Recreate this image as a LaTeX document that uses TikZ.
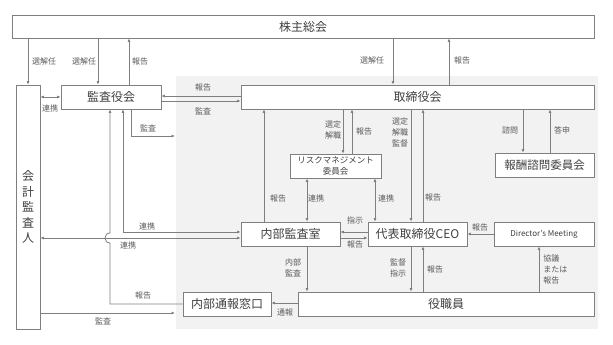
\documentclass[tikz,border=0pt]{standalone}
\usepackage{fontspec}
\setmainfont{Noto Sans CJK JP}
\usetikzlibrary{arrows.meta}
\definecolor{linea}{HTML}{7F7F7F}
\definecolor{testo}{HTML}{404040}
\definecolor{etitesto}{HTML}{5A5A5A}
\definecolor{sfondo}{HTML}{F2F2F2}

\begin{document}
\begin{tikzpicture}[
                x=1pt, y=-1pt,
                line width=0.8pt,
                >={Latex[length=3.5pt,width=3pt]},
                % Stile per i riquadri
                box/.style={
                    draw=linea,
                    fill=white,
                    text=testo,
                    inner sep=0pt,
                    minimum height=24pt,
                    font=\fontsize{12}{14}\selectfont
                },
                % Stile per le frecce
                freccia/.style={draw=linea, ->},
                doppia/.style={draw=linea, <->},
                % Stile per le etichette
                etic/.style={
                    text=etitesto,
                    inner sep=0pt,
                    align=center,
                    font=\fontsize{8}{11}\selectfont
                }
            ]

                \useasboundingbox (0,0) rectangle (613,345);
                % --- Sfondo grigio ---
                \fill[sfondo] (176,76) rectangle (598,329);

                % --- Riquadri ---
                \node[box, minimum width=582pt, minimum height=23pt] (KS) at (303,26.5) {株主総会};
                \node[box, minimum width=24pt, minimum height=244pt, align=center,
                      font=\fontsize{12}{15.5}\selectfont] (KK) at (28,207) {会\\計\\監\\査\\人};
                \node[box, minimum width=100pt] (KY) at (111,97) {監査役会};
                \node[box, minimum width=353pt] (TB) at (417.5,97) {取締役会};
                \node[box, minimum width=91pt, align=center,
                      font=\fontsize{8.5}{11.5}\selectfont] (RM) at (335.5,166) {リスクマネジメント\\委員会};
                \node[box, minimum width=99pt, font=\fontsize{11.5}{14}\selectfont] (HS) at (544.5,165) {報酬諮問委員会};
                \node[box, minimum width=99pt] (NK) at (290.5,234) {内部監査室};
                \node[box, minimum width=99pt] (CEO) at (417.5,234) {代表取締役CEO};
                \node[box, minimum width=100pt, font=\fontsize{8}{10}\selectfont] (DM) at (544,234) {Director’s Meeting};
                \node[box, minimum width=88pt] (NT) at (227,304) {内部通報窓口};
                \node[box, minimum width=296pt] (YS) at (446,304) {役職員};

                % --- Frecce a sinistra ---
                \draw[freccia] (KS.south -| KK.north) -- (KK.north);
                \draw[freccia] (KS.south -| 98,0) -- (KY.north -| 98,0);
                \draw[freccia] (KY.north -| 129,0) -- (KS.south -| 129,0);
                \draw[doppia] (KK.east |- KY.west) -- (KY.west);
                \draw[freccia] (TB.west |- 0,96) -- (KY.east |- 0,96);
                \draw[freccia] (KY.east |- 0,101) -- (TB.west |- 0,101);
                \coordinate (fine1) at (175,136);
                \draw[freccia] (KY.south -| 131,0) |- (fine1);
                \draw[doppia] (KY.south -| 123,0) |- (NK.west |- 0,232);
                % Linea con salto
                \draw[freccia] (NT.west) -| (110,243)
                    to[out=180, in=180, looseness=1.7] (110,233) -- (KY.south -| 110,0);
                \draw[doppia] (KK.east |- 0,238) -- (NK.west |- 0,238);
                \coordinate (fine2) at (175,313);
                \draw[freccia] (KK.east |- fine2) -- (fine2);

                % --- Frecce del consiglio ---
                \draw[freccia] (KS.south -| 393,0) -- (TB.north -| 393,0);
                \draw[freccia] (TB.north -| 449,0) -- (KS.south -| 449,0);
                \draw[freccia] (TB.south -| 343,0) -- (RM.north -| 343,0);
                \draw[freccia] (RM.north -| 352,0) -- (TB.south -| 352,0);
                \draw[freccia] (TB.south -| 411,0) -- (CEO.north -| 411,0);
                \draw[freccia] (CEO.north -| 423,0) -- (TB.south -| 423,0);
                \draw[freccia] (TB.south -| 523,0) -- (HS.north -| 523,0);
                \draw[freccia] (HS.north -| 550,0) -- (TB.south -| 550,0);
                \draw[freccia] (NK.north -| 264,0) -- (TB.south -| 264,0);
                \draw[doppia] (RM.south -| 307,0) -- (NK.north -| 307,0);
                \draw[doppia] (RM.south -| 375,0) -- (CEO.north -| 375,0);

                % --- Frecce in basso ---
                \draw[freccia] (CEO.west |- 0,232) -- (NK.east |- 0,232);
                \draw[freccia] (NK.east |- 0,238) -- (CEO.west |- 0,238);
                \draw[freccia] (DM.west) -- (CEO.east);
                \draw[freccia] (NK.south -| 307,0) -- (YS.north -| 307,0);
                \draw[freccia] (CEO.south -| 411,0) -- (YS.north -| 411,0);
                \draw[freccia] (YS.north -| 423,0) -- (CEO.south -| 423,0);
                \draw[freccia] (YS.north -| 539,0) -- (DM.south -| 539,0);
                \draw[freccia] (YS.west |- 0,303) -- (NT.east |- 0,303);

                % --- Etichette ---
                \node[etic] (e1) at (44,61) {選解任};
                \node[etic] (e2) at (84,61) {選解任};
                \node[etic] (e3) at (140,61) {報告};
                \node[etic] (e4) at (50,108) {連携};
                \node[etic] (e5) at (203,87) {報告};
                \node[etic] (e6) at (203,111) {監査};
                \node[etic] (e7) at (148,128) {監査};
                \node[etic] (e8) at (147,226) {連携};
                \node[etic] (e9) at (128,245) {連携};
                \node[etic] (e10) at (143,295) {報告};
                \node[etic] (e11) at (103,321) {監査};
                \node[etic] (e12) at (372,60) {選解任};
                \node[etic] (e13) at (462,60) {報告};
                \node[etic] (e14) at (333,130) {選定\\解職};
                \node[etic] (e15) at (364,131) {報告};
                \node[etic] (e16) at (400,132) {選定\\解職\\監督};
                \node[etic] (e17) at (510,130) {諮問};
                \node[etic] (e18) at (562,130) {答申};
                \node[etic] (e19) at (278,198) {報告};
                \node[etic] (e20) at (316,198) {連携};
                \node[etic] (e21) at (386,198) {連携};
                \node[etic] (e22) at (433,197) {報告};
                \node[etic] (e23) at (355,220) {指示};
                \node[etic] (e24) at (355,244) {報告};
                \node[etic] (e25) at (480,227) {報告};
                \node[etic] (e26) at (293,268) {内部\\監査};
                \node[etic] (e27) at (398,268) {監督\\指示};
                \node[etic] (e28) at (435,269) {報告};
                \node[etic, anchor=west, align=left] (e29) at (543,269) {協議\\または\\報告};
                \node[etic] (e30) at (285,312) {通報};

            \end{tikzpicture}
\end{document}
